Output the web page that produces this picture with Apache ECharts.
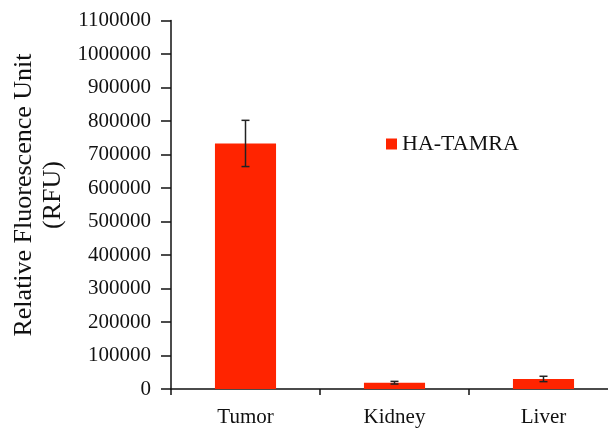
<!DOCTYPE html>
<html><head><meta charset="utf-8">
<script src="https://cdn.jsdelivr.net/npm/echarts@6/dist/echarts.min.js"></script>
<style>html,body{margin:0;padding:0;background:#fff}#c{width:608px;height:428px}</style>
</head><body><div id="c"></div>
<script>
const categories = ['Tumor', 'Kidney', 'Liver'];
const seriesName = 'HA-TAMRA';
const values = [733000, 18800, 30000];
const errors = [69000, 4000, 8000];
const yTicks = [0, 100000, 200000, 300000, 400000, 500000, 600000, 700000, 800000, 900000, 1000000, 1100000];
const yTitle = 'Relative Fluorescence Unit\n(RFU)';

const chart = echarts.init(document.getElementById('c'), null, {renderer: 'canvas'});
const font = 'Liberation Serif';
chart.setOption({
  animation: false,
  backgroundColor: '#fff',
  grid: {left: 171, top: 20.5, width: 447, height: 368.5, containLabel: false, outerBoundsMode: 'none'},
  legend: {
    data: [seriesName], left: 386, top: 133, padding: 0, icon: 'rect', itemWidth: 11, itemHeight: 11,
    textStyle: {fontFamily: font, fontSize: 22, color: '#111'}
  },
  graphic: [{
    type: 'text', x: 39, y: 195, rotation: Math.PI / 2,
    style: {text: yTitle, fontFamily: font, fontSize: 26, lineHeight: 29, fill: '#111', align: 'center', verticalAlign: 'middle'}
  }],
  xAxis: {
    type: 'category', data: categories,
    axisLine: {lineStyle: {color: '#111', width: 1.5}},
    axisTick: {show: true, alignWithLabel: false, length: 6, inside: false, lineStyle: {color: '#111', width: 1.5}},
    axisLabel: {fontFamily: font, fontSize: 21, color: '#111', margin: 18}
  },
  yAxis: {
    type: 'value', min: yTicks[0], max: yTicks[yTicks.length - 1], interval: 100000,
    axisLine: {show: true, lineStyle: {color: '#111', width: 1.5}},
    axisTick: {show: true, length: 10, lineStyle: {color: '#111', width: 1.5}},
    splitLine: {show: false},
    axisLabel: {fontFamily: font, fontSize: 21, color: '#111', margin: 20, formatter: v => String(v)}
  },
  series: [
    {
      name: seriesName, type: 'bar', data: values, barWidth: '41%',
      itemStyle: {color: '#ff2400'}
    },
    {
      type: 'custom', name: 'err', silent: true, z: 5,
      data: values.map((v, i) => [i, v - errors[i], v + errors[i]]),
      renderItem: function (params, api) {
        const x = api.value(0);
        const lo = api.coord([x, api.value(1)]);
        const hi = api.coord([x, api.value(2)]);
        const hw = 4;
        const st = {stroke: '#222', lineWidth: 1.5};
        return {type: 'group', children: [
          {type: 'line', shape: {x1: lo[0], y1: lo[1], x2: hi[0], y2: hi[1]}, style: st},
          {type: 'line', shape: {x1: lo[0] - hw, y1: lo[1], x2: lo[0] + hw, y2: lo[1]}, style: st},
          {type: 'line', shape: {x1: hi[0] - hw, y1: hi[1], x2: hi[0] + hw, y2: hi[1]}, style: st}
        ]};
      }
    }
  ]
});
</script></body></html>
